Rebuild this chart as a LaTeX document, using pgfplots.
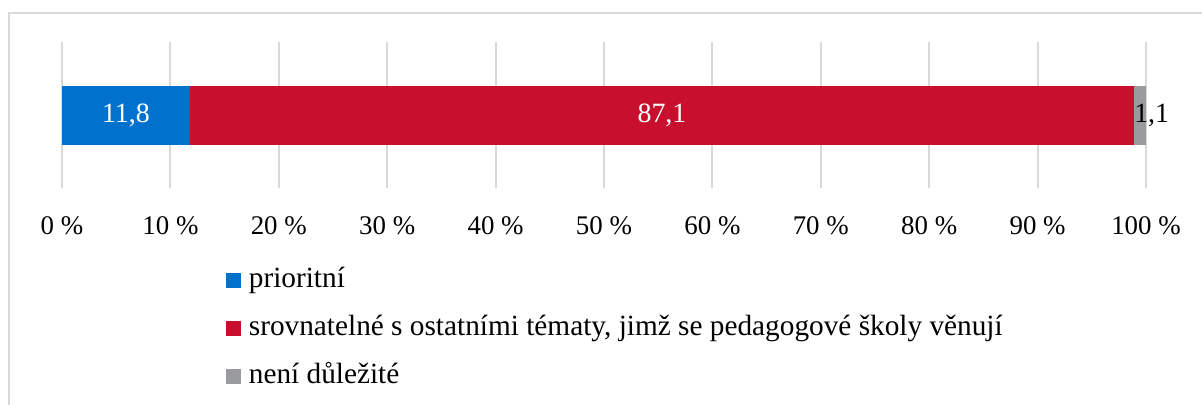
\documentclass[border=0pt]{standalone}
\usepackage{pgfplots}
\pgfplotsset{compat=1.18}
\usepackage{fontspec}
\setmainfont{Liberation Serif}
\definecolor{cblue}{RGB}{0,114,206}
\definecolor{cred}{RGB}{200,16,46}
\definecolor{cgray}{RGB}{153,155,158}
\definecolor{cgrid}{RGB}{217,217,217}
\begin{document}
\begin{tikzpicture}
\useasboundingbox (-62bp,-217bp) rectangle (1140bp,188bp);
\draw[cgrid, line width=2bp] (-53bp,-220bp) -- (-53bp,175bp) -- (1142bp,175bp);
\begin{axis}[
  scale only axis,
  width=1084bp, height=146bp,
  xbar stacked,
  bar width=59bp,
  xmin=0, xmax=100,
  ymin=-1, ymax=1,
  ytick=\empty,
  xtick={0,10,...,100},
  xticklabel={\pgfmathprintnumber{\tick}~\%},
  xticklabel style={font=\fontsize{27}{32}\selectfont, yshift=-25bp},
  /pgf/number format/assume math mode=true,
  major tick length=0pt,
  xmajorgrids,
  grid style={cgrid, line width=2bp},
  axis line style={draw=none},
  legend cell align=left,
  legend style={draw=none, fill=none, font=\fontsize{29.4}{34}\selectfont,
    at={(axis description cs:0.151,-0.52)}, anchor=north west,
    row sep=16bp, inner sep=0pt,
    /tikz/every odd column/.append style={column sep=4bp},
    nodes={inner xsep=4bp, inner ysep=2bp, text height=21bp, text depth=7bp}},
]
\addplot[fill=cblue, draw=none,
  legend image code/.code={\fill[cblue] (0bp,-7.5bp) rectangle (15bp,7.5bp);}]
  coordinates {(11.8,0)};
\addlegendentry{prioritní}
\addplot[fill=cred, draw=none,
  legend image code/.code={\fill[cred] (0bp,-7.5bp) rectangle (15bp,7.5bp);}]
  coordinates {(87.1,0)};
\addlegendentry{srovnatelné s ostatními tématy, jimž se pedagogové školy věnují}
\addplot[fill=cgray, draw=none,
  legend image code/.code={\fill[cgray] (0bp,-7.5bp) rectangle (15bp,7.5bp);}]
  coordinates {(1.1,0)};
\addlegendentry{není důležité}
\coordinate (l1) at (axis cs:5.9,0);
\coordinate (l2) at (axis cs:55.35,0);
\coordinate (l3) at (axis cs:98.9,0);
\end{axis}
\node[text=white, font=\fontsize{28}{32}\selectfont] at (l1) {11,8};
\node[text=white, font=\fontsize{28}{32}\selectfont] at (l2) {87,1};
\node[text=black, font=\fontsize{28}{32}\selectfont, anchor=west, inner sep=0pt] at (l3) {1,1};
\end{tikzpicture}
\end{document}
